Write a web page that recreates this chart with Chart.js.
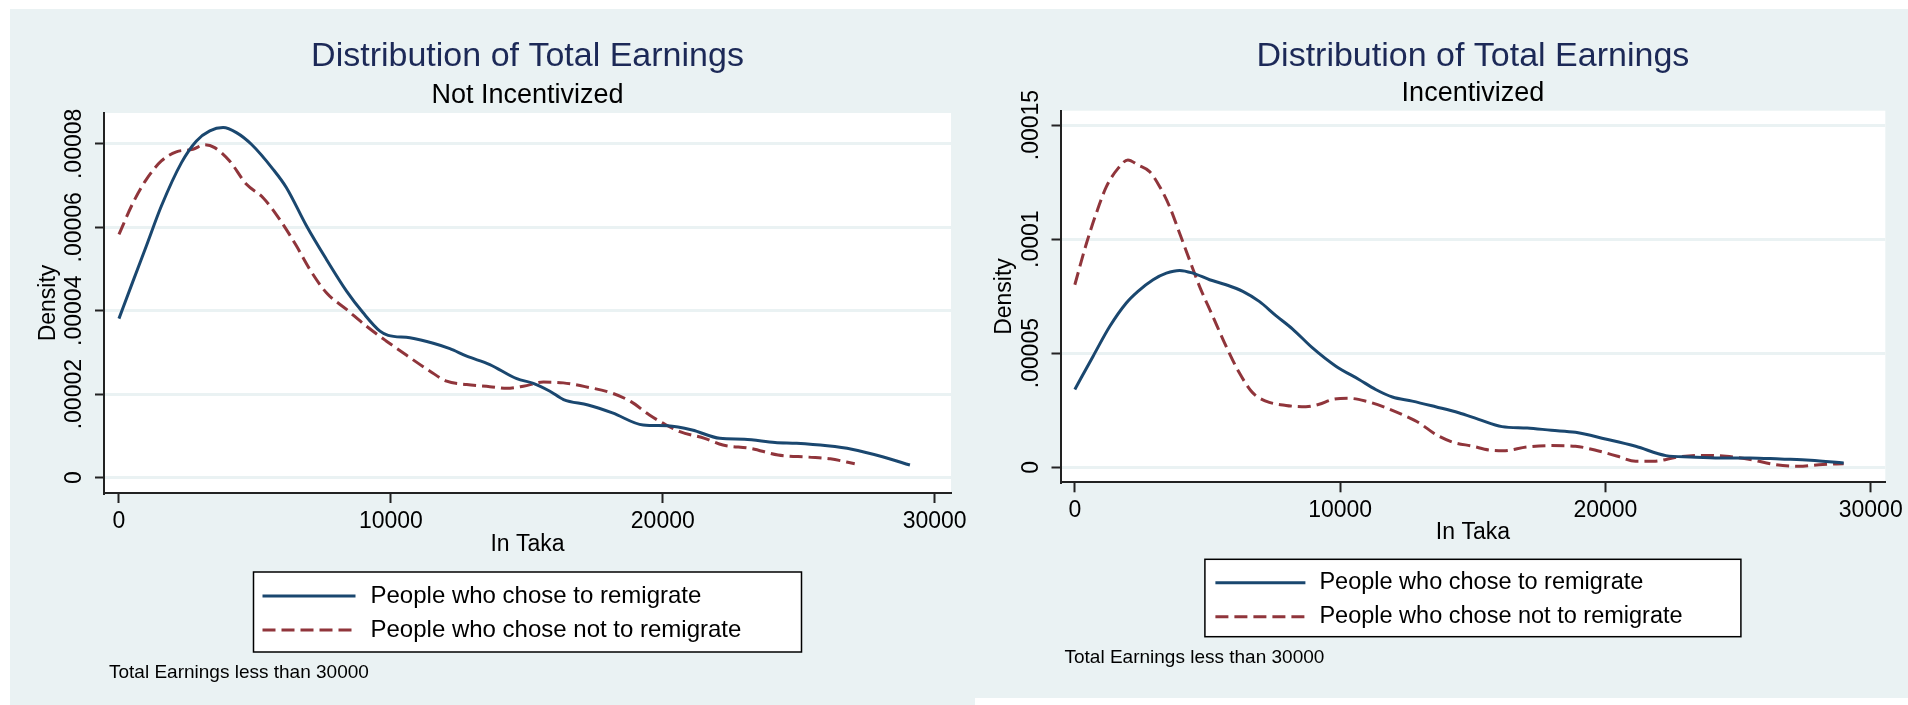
<!DOCTYPE html>
<html>
<head>
<meta charset="utf-8">
<title>Distribution of Total Earnings</title>
<script src="https://cdn.jsdelivr.net/npm/chart.js@4.4.1/dist/chart.umd.min.js"></script>
<style>
  html, body { margin: 0; padding: 0; background: #fff; }
  body { width: 1908px; height: 705px; position: relative; overflow: hidden; }
  .panel { position: absolute; background: #eaf2f3; }
  #panel-left { left: 10px; top: 9px; width: 965px; height: 696px; }
  #panel-right { left: 967px; top: 9px; width: 941px; height: 689px; }
  canvas { display: block; }
</style>
</head>
<body>
<div class="panel" id="panel-left"><canvas id="chartLeft" width="965" height="696"></canvas></div>
<div class="panel" id="panel-right"><canvas id="chartRight" width="941" height="689"></canvas></div>
<script>
const FONT = "'Liberation Sans', Arial, Helvetica, sans-serif";
const BLUE = '#1a476f';
const RED = '#90353b';
const PANEL_BG = '#eaf2f3';
const TITLE_COLOR = '#1c2957';
const AXIS_COLOR = '#222';

const chartTitle = 'Distribution of Total Earnings';
const xAxisTitle = 'In Taka';
const yAxisTitle = 'Density';
const noteText = 'Total Earnings less than 30000';
const seriesLabels = ['People who chose to remigrate', 'People who chose not to remigrate'];

const xTicks = [0, 10000, 20000, 30000];
const xTickLabels = ['0', '10000', '20000', '30000'];

// Not incentivized
const leftYTicks = [0, 0.00002, 0.00004, 0.00006, 0.00008];
const leftYTickLabels = ['0', '.00002', '.00004', '.00006', '.00008'];

const leftRemigrateX = [0, 500, 1000, 1560, 2300, 2850, 3340, 3830, 4320, 4870,
  5670, 6160, 6900, 7630, 8370, 8980, 9600, 9900, 10700, 11560,
  12170, 12790, 13640, 14630, 15240, 15850, 16350, 17250, 18150, 19280,
  20180, 21080, 22100, 23000, 24130, 24920, 26050, 26950, 28080, 29090];
const leftRemigrateY = [3.81e-5, 4.68e-5, 5.54e-5, 6.51e-5, 7.55e-5, 8.07e-5, 8.31e-5, 8.39e-5, 8.27e-5, 7.99e-5,
  7.39e-5, 6.95e-5, 6.03e-5, 5.23e-5, 4.47e-5, 3.95e-5, 3.51e-5, 3.41e-5, 3.35e-5, 3.22e-5,
  3.09e-5, 2.91e-5, 2.71e-5, 2.37e-5, 2.26e-5, 2.07e-5, 1.87e-5, 1.74e-5, 1.55e-5, 1.26e-5,
  1.24e-5, 1.14e-5, 0.94e-5, 0.92e-5, 0.84e-5, 0.82e-5, 0.76e-5, 0.68e-5, 0.50e-5, 0.30e-5];

const leftStayX = [0, 520, 1010, 1560, 2110, 2720, 3150, 3520, 4070, 4690,
  5300, 5910, 6530, 7020, 7630, 8370, 9100, 9840, 10580, 11440,
  12050, 12790, 13640, 14260, 14870, 15610, 16340, 17140, 18150, 18830,
  19510, 20070, 20630, 21540, 22210, 23230, 24240, 25370, 26160, 27060];
const leftStayY = [5.83e-5, 6.59e-5, 7.15e-5, 7.59e-5, 7.81e-5, 7.87e-5, 7.98e-5, 7.91e-5, 7.59e-5, 7.03e-5,
  6.71e-5, 6.19e-5, 5.55e-5, 4.99e-5, 4.43e-5, 4.03e-5, 3.63e-5, 3.27e-5, 2.93e-5, 2.55e-5,
  2.31e-5, 2.23e-5, 2.18e-5, 2.14e-5, 2.19e-5, 2.29e-5, 2.27e-5, 2.18e-5, 2.02e-5, 1.82e-5,
  1.50e-5, 1.28e-5, 1.10e-5, 0.94e-5, 0.78e-5, 0.70e-5, 0.54e-5, 0.49e-5, 0.45e-5, 0.33e-5];

// Incentivized
const rightYTicks = [0, 0.00005, 0.0001, 0.00015];
const rightYTickLabels = ['0', '.00005', '.0001', '.00015'];

const rightRemigrateX = [0, 690, 1320, 1940, 2380, 2950, 3450, 3950, 4450, 5080,
  5700, 6330, 6950, 7580, 8210, 8960, 9840, 10710, 11340, 11970,
  12720, 13600, 14470, 15220, 16100, 17050, 17960, 18870, 20000, 21140,
  22280, 23190, 24320, 25460, 26590, 27730, 28980];
const rightRemigrateY = [3.41e-5, 4.87e-5, 6.18e-5, 7.20e-5, 7.71e-5, 8.22e-5, 8.51e-5, 8.63e-5, 8.51e-5, 8.22e-5,
  8.00e-5, 7.71e-5, 7.27e-5, 6.65e-5, 6.06e-5, 5.23e-5, 4.43e-5, 3.85e-5, 3.41e-5, 3.08e-5,
  2.90e-5, 2.65e-5, 2.39e-5, 2.10e-5, 1.78e-5, 1.72e-5, 1.62e-5, 1.53e-5, 1.24e-5, 0.92e-5,
  0.51e-5, 0.45e-5, 0.41e-5, 0.41e-5, 0.36e-5, 0.31e-5, 0.19e-5];

const rightStayX = [0, 440, 810, 1190, 1630, 2000, 2380, 2820, 3200, 3570,
  3950, 4320, 4700, 5200, 5700, 6200, 6700, 7200, 7960, 8710,
  9210, 9710, 10340, 10960, 11720, 12470, 12970, 13600, 14220, 15000,
  15600, 16140, 17050, 17960, 18870, 19780, 20460, 21140, 21820, 22730,
  23640, 24550, 25460, 26370, 27280, 28190, 28980];
const rightStayY = [8.00e-5, 9.82e-5, 11.14e-5, 12.30e-5, 13.10e-5, 13.47e-5, 13.25e-5, 12.96e-5, 12.30e-5, 11.43e-5,
  10.26e-5, 9.10e-5, 7.93e-5, 6.62e-5, 5.31e-5, 4.14e-5, 3.27e-5, 2.90e-5, 2.71e-5, 2.65e-5,
  2.76e-5, 2.97e-5, 3.02e-5, 2.90e-5, 2.61e-5, 2.24e-5, 1.95e-5, 1.44e-5, 1.11e-5, 0.92e-5,
  0.76e-5, 0.72e-5, 0.89e-5, 0.95e-5, 0.92e-5, 0.70e-5, 0.48e-5, 0.26e-5, 0.26e-5, 0.45e-5,
  0.52e-5, 0.48e-5, 0.34e-5, 0.12e-5, 0.04e-5, 0.12e-5, 0.15e-5];

// white plot region on top of the tinted panel
const plotBackground = {
  id: 'plotBackground',
  beforeDraw(chart) {
    const { ctx, chartArea: a } = chart;
    ctx.save();
    ctx.fillStyle = '#fff';
    ctx.fillRect(a.left, a.top, a.right - a.left, a.bottom - a.top);
    ctx.restore();
  }
};

// framed two-row legend under the axis, plus the footnote
const boxLegend = {
  id: 'boxLegend',
  afterDraw(chart, args, o) {
    const { ctx, chartArea: a } = chart;
    const left = (a.left + a.right) / 2 - o.width / 2;
    const top = a.bottom + o.offsetTop;
    ctx.save();
    ctx.fillStyle = '#fff';
    ctx.fillRect(left, top, o.width, o.height);
    ctx.strokeStyle = '#000';
    ctx.lineWidth = 1.5;
    ctx.strokeRect(left, top, o.width, o.height);
    ctx.font = o.fontSize + 'px ' + FONT;
    ctx.textBaseline = 'middle';
    ctx.textAlign = 'left';
    chart.data.datasets.forEach((ds, i) => {
      const y = top + o.rows[i];
      ctx.beginPath();
      ctx.setLineDash(ds.borderDash || []);
      ctx.strokeStyle = ds.borderColor;
      ctx.lineWidth = ds.borderWidth;
      ctx.moveTo(left + o.sample[0], y);
      ctx.lineTo(left + o.sample[1], y);
      ctx.stroke();
      ctx.setLineDash([]);
      ctx.fillStyle = '#000';
      ctx.fillText(ds.label, left + o.textX, y);
    });
    ctx.font = o.noteSize + 'px ' + FONT;
    ctx.fillStyle = '#000';
    ctx.fillText(o.note, a.left + o.noteX, top + o.height + o.noteGap);
    ctx.restore();
  }
};

function densityChart(canvasId, s) {
  return new Chart(document.getElementById(canvasId), {
    type: 'line',
    data: {
      datasets: [
        {
          label: seriesLabels[0],
          data: s.remigrateX.map((x, i) => ({ x: x, y: s.remigrateY[i] })),
          borderColor: BLUE,
          borderWidth: 3,
          pointRadius: 0,
          fill: false,
          cubicInterpolationMode: 'monotone'
        },
        {
          label: seriesLabels[1],
          data: s.stayX.map((x, i) => ({ x: x, y: s.stayY[i] })),
          borderColor: RED,
          borderWidth: 3,
          borderDash: [13, 6],
          pointRadius: 0,
          fill: false,
          cubicInterpolationMode: 'monotone'
        }
      ]
    },
    options: {
      responsive: false,
      animation: false,
      layout: { padding: s.padding },
      plugins: {
        legend: { display: false },
        tooltip: { enabled: false },
        title: {
          display: true,
          fullSize: false,
          text: chartTitle,
          color: TITLE_COLOR,
          font: { family: FONT, size: 34, weight: 'normal', lineHeight: 1.2 },
          padding: s.titlePad
        },
        subtitle: {
          display: true,
          fullSize: false,
          text: s.subtitle,
          color: '#000',
          font: { family: FONT, size: 27, weight: 'normal', lineHeight: 1.2 },
          padding: s.subtitlePad
        },
        boxLegend: s.legend
      },
      scales: {
        x: {
          type: 'linear',
          min: s.xMin,
          max: s.xMax,
          afterBuildTicks: sc => { sc.ticks = xTicks.map(v => ({ value: v })); },
          afterFit: sc => { sc.height = 70; },
          grid: { drawOnChartArea: false, drawTicks: true, tickLength: 10, tickColor: AXIS_COLOR, tickWidth: 2 },
          border: { display: true, color: AXIS_COLOR, width: 2 },
          ticks: {
            autoSkip: false,
            maxRotation: 0,
            padding: s.xTickPad,
            color: '#000',
            font: { family: FONT, size: 23 },
            callback: (v, i) => xTickLabels[i]
          },
          title: {
            display: true,
            text: xAxisTitle,
            color: '#000',
            font: { family: FONT, size: 23 },
            padding: { top: 0, bottom: s.xTitlePad }
          }
        },
        y: {
          type: 'linear',
          min: s.yMin,
          max: s.yMax,
          afterBuildTicks: sc => { sc.ticks = s.yTicks.map(v => ({ value: v })); },
          afterFit: sc => { sc.width = 80; },
          grid: { color: PANEL_BG, lineWidth: 3, tickLength: 9, tickColor: AXIS_COLOR, tickWidth: 2 },
          border: { display: true, color: AXIS_COLOR, width: 2 },
          ticks: {
            autoSkip: false,
            minRotation: 90,
            maxRotation: 90,
            crossAlign: 'center',
            padding: s.yTickPad,
            color: '#000',
            font: { family: FONT, size: 23 },
            callback: (v, i) => s.yTickLabels[i]
          },
          title: {
            display: true,
            text: yAxisTitle,
            color: '#000',
            font: { family: FONT, size: 23 },
            padding: { top: s.yTitlePad, bottom: 0 }
          }
        }
      }
    },
    plugins: [plotBackground, boxLegend]
  });
}

densityChart('chartLeft', {
  subtitle: 'Not Incentivized',
  remigrateX: leftRemigrateX, remigrateY: leftRemigrateY,
  stayX: leftStayX, stayY: leftStayY,
  yTicks: leftYTicks, yTickLabels: leftYTickLabels,
  xMin: -550, xMax: 30600,
  yMin: -0.0000037, yMax: 0.0000874,
  padding: { left: 14, right: 24, top: 0, bottom: 142 },
  titlePad: { top: 27.4, bottom: 0 },
  subtitlePad: { top: 2.6, bottom: 0.8 },
  xTickPad: 5.2, xTitlePad: 4.2,
  yTickPad: -15.2, yTitlePad: 10.9,
  legend: {
    width: 548, height: 80, offsetTop: 79,
    rows: [24, 58], sample: [9, 102], textX: 117, fontSize: 24,
    note: noteText, noteX: 5, noteGap: 21, noteSize: 19
  }
});

densityChart('chartRight', {
  subtitle: 'Incentivized',
  remigrateX: rightRemigrateX, remigrateY: rightRemigrateY,
  stayX: rightStayX, stayY: rightStayY,
  yTicks: rightYTicks, yTickLabels: rightYTickLabels,
  xMin: -540, xMax: 30550,
  yMin: -0.0000066, yMax: 0.0001563,
  padding: { left: 13.5, right: 21, top: 0, bottom: 145.7 },
  titlePad: { top: 26.9, bottom: 0 },
  subtitlePad: { top: 0.9, bottom: 0.7 },
  xTickPad: 4.9, xTitlePad: 5.5,
  yTickPad: -15.7, yTitlePad: 10.7,
  legend: {
    width: 536, height: 77.4, offsetTop: 77,
    rows: [23.5, 57.5], sample: [10.5, 100.5], textX: 114.5, fontSize: 23.5,
    note: noteText, noteX: 4, noteGap: 21.5, noteSize: 19
  }
});
</script>
</body>
</html>
